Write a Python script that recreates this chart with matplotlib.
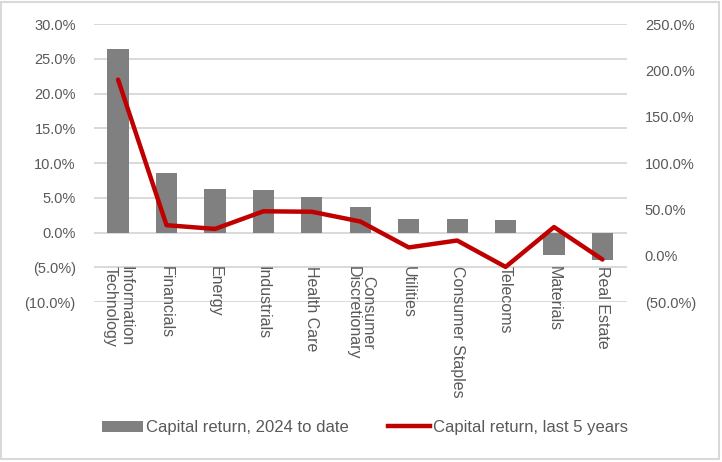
import numpy as np
import matplotlib.pyplot as plt
from matplotlib.patches import Patch, Rectangle
from matplotlib.lines import Line2D
from matplotlib.ticker import FuncFormatter

plt.rcParams['font.family'] = ['Liberation Sans', 'DejaVu Sans']

sectors = ["Information\nTechnology", "Financials", "Energy", "Industrials",
           "Health Care", "Consumer\nDiscretionary", "Utilities",
           "Consumer Staples", "Telecoms", "Materials", "Real Estate"]
ytd = [26.4, 8.6, 6.3, 6.1, 5.1, 3.7, 2.0, 2.0, 1.8, -3.2, -4.0]
five_yr = [190, 33, 29, 48, 47.5, 37, 9, 16.5, -12, 31, -4]

grey_txt = '#595959'


def pct(v, pos):
    if v < 0:
        return '({:.1f}%)'.format(-v)
    return '{:.1f}%'.format(v)


fig = plt.figure(figsize=(7.22, 4.62), dpi=100)
ax = fig.add_axes([0.130, 0.346, 0.738, 0.602])
x = np.arange(len(sectors))

ax.bar(x, ytd, width=0.44, color='#808080', zorder=2)
ax.set_xlim(-0.5, len(sectors) - 0.5)
ax.set_ylim(-10, 30)
ax.set_yticks(np.arange(-10, 31, 5))
ax.yaxis.set_major_formatter(FuncFormatter(pct))
ax.grid(axis='y', color='#d9d9d9', linewidth=1.4, zorder=0)
ax.set_xticks([])
for s in ax.spines.values():
    s.set_visible(False)
ax.tick_params(axis='y', length=0, labelsize=10.5, labelcolor=grey_txt, pad=13)

# category names hang below the plot, reading downwards
for i, name in enumerate(sectors):
    ax.text(i, -4.75, name, rotation=270, ha='center', va='top',
            fontsize=11.5, color=grey_txt, linespacing=1.0)

ax2 = ax.twinx()
ax2.plot(x, five_yr, color='#c00000', linewidth=3.2, solid_capstyle='round',
         solid_joinstyle='round', zorder=3)
ax2.set_ylim(-50, 250)
ax2.set_yticks(np.arange(-50, 251, 50))
ax2.yaxis.set_major_formatter(FuncFormatter(pct))
for s in ax2.spines.values():
    s.set_visible(False)
ax2.tick_params(axis='y', length=0, labelsize=10.5, labelcolor=grey_txt, pad=13)

handles = [Patch(facecolor='#808080', edgecolor='none'),
           Line2D([0], [0], color='#c00000', linewidth=3.2)]
fig.legend(handles, ["Capital return, 2024 to date", "Capital return, last 5 years"],
           loc='center', bbox_to_anchor=(0.505, 0.074), ncol=2, frameon=False,
           fontsize=12, labelcolor=grey_txt, handlelength=2.5, handleheight=0.7,
           handletextpad=0.15, columnspacing=2.4)

fig.patches.append(Rectangle((0.002, 0.006), 0.994, 0.99, transform=fig.transFigure,
                             fill=False, edgecolor='#d9d9d9', linewidth=1.5))

fig.savefig('out.png', dpi=100)
